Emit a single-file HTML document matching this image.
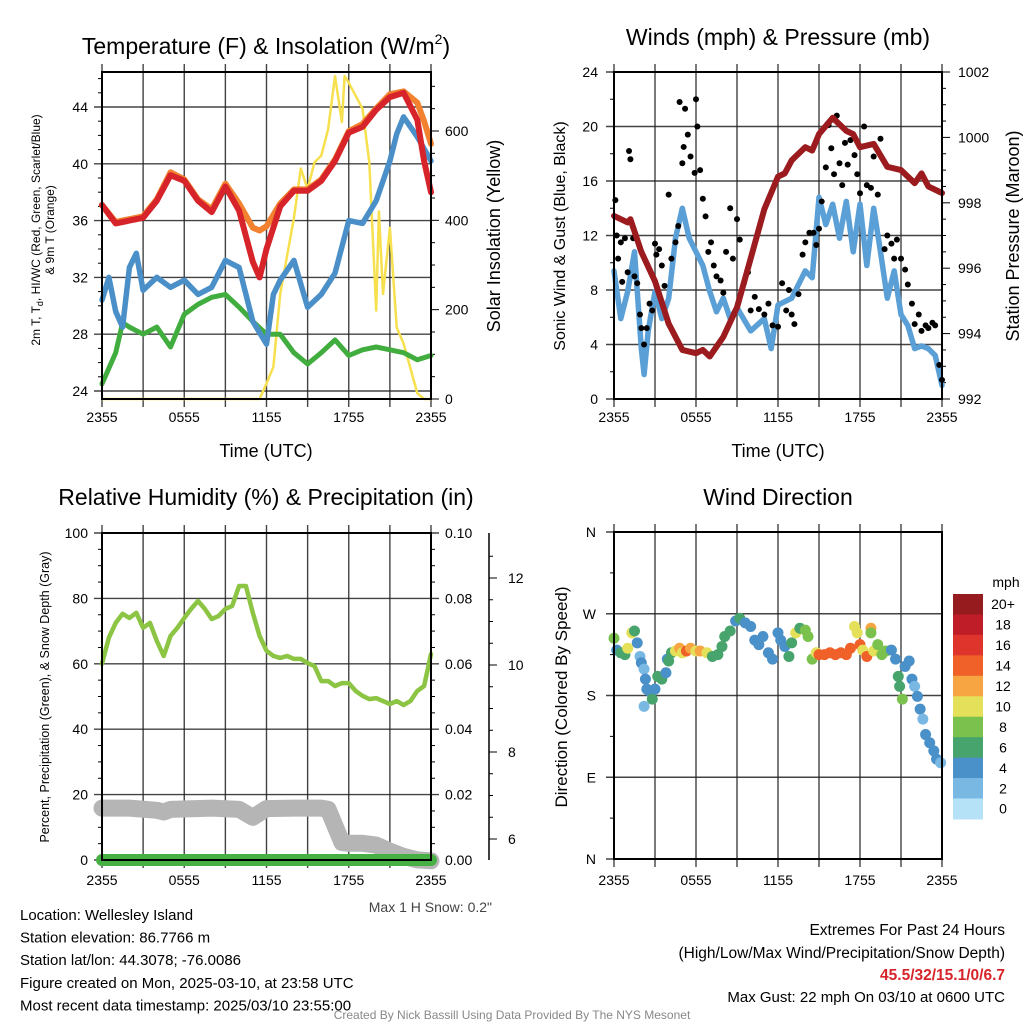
<!DOCTYPE html>
<html><head><meta charset="utf-8">
<style>
html,body{margin:0;padding:0;background:#fff;}
svg{display:block;font-family:"Liberation Sans",Arial,sans-serif;}
</style></head>
<body>
<svg id="c" width="1024" height="1024" viewBox="0 0 1024 1024" xmlns="http://www.w3.org/2000/svg"></svg>
<script>
// ---------- DATA ----------
const xTickLabels = ["2355","0555","1155","1755","2355"];
// Panel 1 (hours since 2355)
const tempHours = [0,1,2,3,4,5,6,7,8,9,10,11,11.5,12,13,14,15,16,17,18,19,20,21,22,23,23.5,24];
const tempRed =   [37.1,35.8,36,36.2,37.4,39.2,38.8,37.4,36.6,38.4,36.7,33.1,32,34,37,38.1,38.1,38.8,40.2,42.2,42.6,43.8,44.7,45,43.1,40.2,38];
const tempOrange =[37.1,35.9,36.1,36.3,37.5,39.4,38.9,37.5,36.8,38.6,37.2,35.5,35.3,35.6,37.2,38.2,38.2,38.9,40.3,42.3,42.8,43.9,44.9,45.1,44.3,43,41.4];
const dewHours = [0,0.5,1,1.5,2,2.5,3,4,5,6,7,8,9,10,11,12,12.5,13,14,15,16,17,18,19,20,21,21.5,22,23,24];
const dewBlue =  [30.4,32,29.6,28.5,32.7,33.7,31.1,32,31.3,31.8,30.8,31.3,33.2,32.7,28.9,27.3,30.8,31.8,33.2,29.9,30.8,32.3,36,35.8,37.4,40.2,42.1,43.3,41.9,40.2];
const wcHours = [0,1,1.5,2,3,4,5,6,7,8,9,10,11,12,13,14,15,16,17,18,19,20,21,22,23,24];
const wcGreen = [24.5,26.7,28.8,28.5,28,28.5,27.1,29.4,30.1,30.6,30.8,29.9,28.9,28,28,26.7,25.9,26.7,27.6,26.5,26.9,27.1,26.9,26.7,26.2,26.5];
const solarHours = [0,11.5,12,12.5,13,14,14.5,15,15.5,16,16.5,17,17.5,17.7,18,19,19.5,20,20.2,20.5,21,21.5,22,23,23.5,24];
const solarVals =  [0,0,35,72,235,405,516,470,530,545,605,723,620,723,708,650,530,198,420,235,383,160,124,13,0,0];
const tempTicks = [24,28,32,36,40,44];
const solarTicks = [0,200,400,600];
// Panel 2
const presHours = [0,1,1.2,2,3,4,5,6,6.5,7,8,9,10,11,12,12.5,13,14,14.5,15,16,17,17.5,18,19,20,21,22,22.5,23,24];
const presVals =  [997.6,997.4,997.5,996.5,995.6,994.3,993.5,993.4,993.5,993.3,993.9,994.8,996.3,997.8,998.8,998.9,999.3,999.7,999.6,1000.1,1000.6,1000.2,1000.1,999.7,999.8,999.1,999,998.6,998.9,998.5,998.3];
const windHours = [0,0.5,1,1.5,2,2.2,2.5,3,3.5,4,4.5,5,5.5,6,6.5,7,7.5,8,8.5,9,10,11,11.5,12,13,14,14.5,15,15.5,16,16.5,17,17.5,18,18.5,19,19.5,20,20.5,21,21.5,22,22.5,23,23.5,24];
const windVals =  [9.4,5.9,7.9,10.8,3.7,1.8,5,7.9,5.9,7.4,11.8,14,11.8,10.8,9.8,7.9,6.4,7.4,5.9,6.7,5,5.9,3.7,6.9,7.4,9.4,8.9,14.8,12.8,14.3,11.8,14.5,10.8,14.3,9.8,14,10.8,7.4,9.4,6.2,5.4,3.7,3.9,3.7,3.2,1];
const gustHours = [0.1,0.2,0.3,0.5,0.6,0.8,1.0,1.1,1.2,1.4,1.5,1.7,1.9,2.0,2.2,2.4,2.6,2.8,3.0,3.1,3.3,3.5,3.7,4.0,4.2,4.5,4.7,4.8,5.0,5.1,5.2,5.4,5.6,5.9,6.0,6.1,6.3,6.5,6.7,6.9,7.1,7.3,7.5,7.8,8.0,8.2,8.5,8.7,9.0,9.2,9.5,9.8,10.0,10.3,10.6,11,11.3,11.6,12.0,12.3,12.6,12.8,13.0,13.2,13.5,13.8,14.0,14.3,14.6,14.8,15.0,15.2,15.5,15.7,15.9,16.1,16.3,16.5,16.7,16.9,17.1,17.3,17.6,17.8,18.0,18.3,18.5,18.8,19.0,19.3,19.5,19.8,20.0,20.3,20.5,20.7,21,21.3,21.5,21.8,22.0,22.3,22.5,22.8,23.0,23.3,23.5,23.8,24];
const gustVals =  [14.6,12,10.3,11.5,8.6,11.8,9.3,18.2,17.6,11.8,9,8.5,6.2,5.2,4,5.2,7,6.5,11.4,10.6,11,9.8,8.3,15,10.3,11.5,12.7,21.8,17.3,18.5,21.3,19.4,17.8,16.6,22,20,16.8,14.7,13.4,10.8,11.5,9.8,9,8.7,7.8,10.8,14,10.3,13.2,11.7,8.5,9.3,6.5,7.5,6.6,6.2,7,5.4,5.3,8.5,6.5,8,6.2,5.5,7.7,10.6,11.5,12.2,12.2,11.3,12.5,14.5,17,20.1,18.4,16.5,20.8,17.3,15.7,18.8,17.2,19,17.9,16.5,15.1,20,15.7,15.5,17.8,15,19.1,11,12,11.4,10.3,11.7,10.3,9.5,8.4,7,5.5,6.2,5,5.4,5.2,5.6,5.4,2.5,1.4];
const windTicks = [0,4,8,12,16,20,24];
const presTicks = [992,994,996,998,1000,1002];
// Panel 3
const rhHours = [0,0.5,1,1.5,2,2.5,3,3.5,4,4.5,5,5.5,6,6.5,7,7.5,8,8.5,9,9.5,10,10.5,11,11.5,12,12.5,13,13.5,14,14.5,15,15.5,16,16.5,17,17.5,18,18.5,19,19.5,20,20.5,21,21.5,22,22.5,23,23.5,24];
const rhVals =  [60,68,72.5,75.3,74,75.6,71,72.5,67,62.4,68.5,71,74,76.8,79.2,76.8,73.7,74.6,76.8,77.7,83.8,83.8,75.6,68.5,64,62.4,61.8,62.4,61.5,61.5,60.2,59.3,54.7,54.7,53.2,54.1,54.1,51.7,50.2,49.2,49.5,48.6,47.7,48.6,47.4,48.6,51.7,53.2,63];
const snowHours = [0,2,4,4.5,5,8,10,11,12,14,16,16.5,17,17.5,18,19,20,21,22,23,24];
const snowVals =  [6.71,6.71,6.66,6.62,6.68,6.71,6.68,6.5,6.7,6.71,6.71,6.68,6.3,5.92,5.9,5.9,5.86,5.72,5.6,5.52,5.5];
const precipHours = [0,24];
const precipVals = [0,0];
const rhTicks = [0,20,40,60,80,100];
const precipTicks = ["0.00","0.02","0.04","0.06","0.08","0.10"];
const snowTicks = [6,8,10,12];
// Panel 4
const dirHours = [0,0.2,0.5,0.8,1.0,1.3,1.5,1.7,1.9,2.0,2.2,2.3,2.4,2.2,2.6,2.8,3.0,3.2,3.5,3.8,3.9,4.0,4.2,4.5,4.8,5.0,5.3,5.6,6.0,6.3,6.8,7.2,7.6,7.9,8.1,8.5,8.9,9.2,9.6,10,10.3,10.6,10.9,11.3,11.6,12,12.2,12.5,12.8,13.0,13.3,13.6,14.0,14.2,14.5,14.8,15.0,15.4,15.8,16.2,16.6,17.0,17.3,17.6,17.8,18.0,18.2,18.5,18.8,18.8,19.0,19.3,19.6,19.9,20.3,20.6,20.8,20.9,21.1,21.3,21.6,21.8,22.0,22.2,22.4,22.6,22.8,23.1,23.4,23.6,23.9];
const dirVals =  [243,230,227,225,232,249,251,238,223,216,209,198,187,168,185,176,187,201,198,205,220,218,227,229,232,227,229,232,229,229,227,223,225,234,245,251,262,265,260,256,241,236,245,227,220,249,241,234,223,238,249,254,252,245,220,227,225,225,227,225,227,225,232,256,249,236,230,223,254,249,229,236,225,229,230,220,201,190,176,212,218,198,190,179,165,154,137,128,119,110,106];
const dirSpeeds = [9,5,6,7,10,10,7,4,3,4,3,4,4,2,5,6,5,7,6,4,4,6,7,10,12,11,14,12,10,12,10,7,6,6,6,6,5,6,4,5,4,5,5,4,4,5,5,4,6,7,10,7,8,8,8,10,14,14,14,14,14,14,14,11,10,15,10,14,12,8,11,8,9,9,5,5,6,7,8,4,4,5,3,4,4,3,4,4,4,4,2];
const dirTickLabels = ["N","E","S","W","N"];
const speedBinLabels = ["0","2","4","6","8","10","12","14","16","18","20+"];
const speedColors = ["#b5e2f7","#7ab8e4","#4a90c9","#47a46c","#7bc14d","#e5e05a","#f7a542","#ef6128","#de342b","#bf1d27","#961b1e"];

// ---------- DRAWING ----------
const NS="http://www.w3.org/2000/svg";
const svg=document.getElementById('c');
function mk(tag,attrs,parent){const e=document.createElementNS(NS,tag);for(const k in attrs)e.setAttribute(k,attrs[k]);(parent||svg).appendChild(e);return e;}
function txt(s,x,y,size,anchor,parent,extra){const t=mk('text',Object.assign({x:x,y:y,'font-size':size,'text-anchor':anchor||'middle',fill:'#000'},extra||{}),parent);t.textContent=s;return t;}
function lin(x0,x1,h0,h1){return v=>x0+(v-h0)*(x1-x0)/(h1-h0);}
function pathD(xs,ys,fx,fy){return xs.map((h,i)=>(i?'L':'M')+fx(h).toFixed(1)+','+fy(ys[i]).toFixed(1)).join(' ');}

function frame(g,x0,x1,y0,y1,fx){
  for(let h=0;h<=24;h+=3){const x=fx(h);
    const l=mk('line',{x1:x,x2:x,y1:y0-8,y2:y1+8,stroke:'#222','stroke-width':1.4,'stroke-opacity':0.85},g);
    
    
  }
  for(let i=0;i<5;i++){const x=fx(i*6);
    const t=txt(xTickLabels[i],x,422,14,'middle',g);
    
    
  }
}
function box(g,x0,x1,y0,y1){
  const r=mk('rect',{x:x0,y:y0,width:x1-x0,height:y1-y0,fill:'none',stroke:'#000','stroke-width':2},g);
  
  
}
function hgrid(g,x0,x1,y){mk('line',{x1:x0,x2:x1,y1:y,y2:y,stroke:'#222','stroke-width':1.4,'stroke-opacity':0.85},g);}
function tickL(g,x,y,len){mk('line',{x1:x-len,x2:x,y1:y,y2:y,stroke:'#000','stroke-width':1},g);}
function tickR(g,x,y,len){mk('line',{x1:x,x2:x+len,y1:y,y2:y,stroke:'#000','stroke-width':1},g);}

// ===== Panel 1 =====
(function(){
  const g=mk('g',{});  
  const X0=102,X1=431,Y0=72,Y1=399;
  const fx=lin(X0,X1,0,24), fy=lin(391,107,24,44), fs=lin(399,131,0,600);
  frame(g,X0,X1,Y0,Y1,fx);
  tempTicks.forEach(v=>{const y=fy(v);hgrid(g,X0-8,X1,y);
    const t=txt(String(v),X0-14,y+5,14,'end',g);  });
  for(let v=23;v<=46;v++){if(v%4){const y=fy(v); if(y>Y0&&y<Y1) tickL(g,X0,y,4);}}
  solarTicks.forEach(v=>{const y=fs(v);tickR(g,X1,y,8);
    const t=txt(String(v),X1+14,y+5,14,'start',g);  });
  for(let v=50;v<=700;v+=50){if(v%200){const y=fs(v); if(y>Y0) tickR(g,X1,y,4);}}
  let p;
  p=mk('path',{d:pathD(solarHours,solarVals,fx,fs),fill:'none',stroke:'#f7e04e','stroke-width':2.5,'stroke-linejoin':'round'},g);
   
  p=mk('path',{d:pathD(wcHours,wcGreen,fx,fy),fill:'none',stroke:'#42ad3f','stroke-width':5,'stroke-linejoin':'round','stroke-linecap':'round'},g);
   
  p=mk('path',{d:pathD(dewHours,dewBlue,fx,fy),fill:'none',stroke:'#4a8fc8','stroke-width':5.5,'stroke-linejoin':'round','stroke-linecap':'round'},g);
   
  p=mk('path',{d:pathD(tempHours,tempOrange,fx,fy),fill:'none',stroke:'#f28130','stroke-width':6,'stroke-linejoin':'round','stroke-linecap':'round'},g);
   
  p=mk('path',{d:pathD(tempHours,tempRed,fx,fy),fill:'none',stroke:'#d6242a','stroke-width':6,'stroke-linejoin':'round','stroke-linecap':'round'},g);
   
  box(g,X0,X1,Y0,Y1);
  let t=mk('text',{x:266,y:54,'font-size':23,'text-anchor':'middle'},g);
  t.innerHTML='Temperature (F) &amp; Insolation (W/m<tspan font-size="14" dy="-10">2</tspan><tspan dy="10">)</tspan>';
   
  t=txt('Time (UTC)',266,457,18,'middle',g);  
  t=mk('text',{x:0,y:0,'font-size':12,'text-anchor':'middle',transform:'translate(40,230) rotate(-90)'},g);
  t.innerHTML='2m T, T<tspan font-size="9" dy="3">d</tspan><tspan dy="-3">, HI/WC (Red, Green, Scarlet/Blue)</tspan>';
   
  t=mk('text',{x:0,y:0,'font-size':12,'text-anchor':'middle',transform:'translate(54,230) rotate(-90)'},g); t.textContent='& 9m T (Orange)';
   
  t=mk('text',{x:0,y:0,'font-size':18,'text-anchor':'middle',transform:'translate(500,236) rotate(-90)'},g); t.textContent='Solar Insolation (Yellow)';
   
})();

// ===== Panel 2 =====
(function(){
  const g=mk('g',{});  
  const X0=614,X1=942,Y0=72,Y1=399;
  const fx=lin(X0,X1,0,24), fy=lin(Y1,Y0,0,24), fp=lin(Y1,Y0,992,1002);
  frame(g,X0,X1,Y0,Y1,fx);
  windTicks.forEach(v=>{const y=fy(v);hgrid(g,X0-8,X1,y);
    const t=txt(String(v),X0-16,y+5,14,'end',g);  });
  for(let v=2;v<24;v+=4) tickL(g,X0,fy(v),4);
  presTicks.forEach(v=>{const y=fp(v);tickR(g,X1,y,8);
    const t=txt(String(v),X1+16,y+5,14,'start',g);  });
  for(let v=992.5;v<1002;v+=0.5){if(v%2) tickR(g,X1,fp(v),4);}
  let p=mk('path',{d:pathD(windHours,windVals,fx,fy),fill:'none',stroke:'#5a9fd6','stroke-width':5.5,'stroke-linejoin':'round','stroke-linecap':'round'},g);
   
  gustHours.forEach((h,i)=>{const c=mk('circle',{cx:fx(h),cy:fy(gustVals[i]),r:3,fill:'#000'},g);
    
    });
  p=mk('path',{d:pathD(presHours,presVals,fx,fp),fill:'none',stroke:'#9b1b1e','stroke-width':6,'stroke-linejoin':'round','stroke-linecap':'round'},g);
   
  box(g,X0,X1,Y0,Y1);
  let t=txt('Winds (mph) & Pressure (mb)',778,45,23,'middle',g);  
  t=txt('Time (UTC)',778,457,18,'middle',g);  
  t=mk('text',{x:0,y:0,'font-size':16,'text-anchor':'middle',transform:'translate(565,236) rotate(-90)'},g); t.textContent='Sonic Wind & Gust (Blue, Black)';
   
  t=mk('text',{x:0,y:0,'font-size':18,'text-anchor':'middle',transform:'translate(1019,236) rotate(-90)'},g); t.textContent='Station Pressure (Maroon)';
   
})();

// ===== Panel 3 =====
(function(){
  const g=mk('g',{transform:'translate(0,463)'});  
  const X0=102,X1=431,Y0=70,Y1=397;
  const fx=lin(X0,X1,0,24), fy=lin(Y1,Y0,0,100), fsn=lin(839-463,578-463,6,12);
  frame(g,X0,X1,Y0,Y1,fx);
  rhTicks.forEach((v,i)=>{const y=fy(v);hgrid(g,X0-8,X1+8,y);
    let t=txt(String(v),X0-14,y+5,14,'end',g);  
    t=txt(precipTicks[i],X1+14,y+5,14,'start',g);  });
  for(let v=5;v<100;v+=5){if(v%20){tickL(g,X0,fy(v),4);tickR(g,X1,fy(v),4);}}
  mk('line',{x1:489,x2:489,y1:Y0,y2:Y1,stroke:'#000','stroke-width':1.5},g);
  snowTicks.forEach(v=>{const y=fsn(v);tickR(g,489,y,8);
    const t=txt(String(v),508,y+5,14,'start',g);  });
  for(let v=5.5;v<=12.5;v+=0.5){if(v%2){const y=fsn(v); if(y>Y0&&y<Y1) tickR(g,489,y,4);}}
  let p=mk('path',{d:pathD(snowHours,snowVals,fx,fsn),fill:'none',stroke:'#b5b5b5','stroke-width':17,'stroke-linejoin':'round','stroke-linecap':'round'},g);
   
  p=mk('path',{d:pathD(precipHours,precipVals,fx,v=>fy(v*1000)),fill:'none',stroke:'#46b045','stroke-width':12,'stroke-linecap':'round'},g);
   
  p=mk('path',{d:pathD(rhHours,rhVals,fx,fy),fill:'none',stroke:'#8cc443','stroke-width':4.5,'stroke-linejoin':'round','stroke-linecap':'round'},g);
   
  box(g,X0,X1,Y0,Y1);
  let t=txt('Relative Humidity (%) & Precipitation (in)',266,42,23,'middle',g);  
  t=mk('text',{x:0,y:0,'font-size':12.5,'text-anchor':'middle',transform:'translate(49,234) rotate(-90)'},g); t.textContent='Percent, Precipitation (Green), & Snow Depth (Gray)';
   
  t=txt('Max 1 H Snow: 0.2"',492,449,14,'end',g,{fill:'#444'});  
})();

// ===== Panel 4 =====
(function(){
  const g=mk('g',{transform:'translate(0,463)'});  
  const X0=614,X1=942,Y0=69,Y1=396;
  const fx=lin(X0,X1,0,24), fy=lin(Y1,Y0,0,360);
  frame(g,X0,X1,Y0,Y1,fx);
  dirTickLabels.forEach((s,i)=>{const y=fy(i*90);hgrid(g,X0-8,X1,y);
    const t=txt(s,X0-18,y+5,14,'end',g);  });
  for(let v=45;v<360;v+=90) tickL(g,X0,fy(v),4);
  dirHours.forEach((h,i)=>{const b=Math.min(10,Math.floor(dirSpeeds[i]/2));
    const c=mk('circle',{cx:fx(h),cy:fy(dirVals[i]),r:5.5,fill:speedColors[b]},g);
    
    });
  box(g,X0,X1,Y0,Y1);
  let t=txt('Wind Direction',778,42,23,'middle',g);  
  t=mk('text',{x:0,y:0,'font-size':17,'text-anchor':'middle',transform:'translate(567,234) rotate(-90)'},g); t.textContent='Direction (Colored By Speed)';
   
  const cb=mk('g',{},g);  
  const bh=20.45, top=594-463;
  t=txt('mph',1006,124,14,'middle',cb);  
  speedBinLabels.forEach((s,i)=>{const k=10-i;const y=top+i*bh;
    const r=mk('rect',{x:953,y:y,width:30,height:bh+0.5,fill:speedColors[k]},cb);
     
    const tt=txt(speedBinLabels[k],1003,y+bh/2+5,14,'middle',cb);  });
})();

// ===== Footer text =====
(function(){
  const g=mk('g',{});  
  const left=["Location: Wellesley Island","Station elevation: 86.7766 m","Station lat/lon: 44.3078; -76.0086","Figure created on Mon, 2025-03-10, at 23:58 UTC","Most recent data timestamp: 2025/03/10 23:55:00"];
  left.forEach((s,i)=>{const t=txt(s,20,920+i*22.6,15,'start',g);  });
  let t=txt('Extremes For Past 24 Hours',1005,935,15.5,'end',g);  
  t=txt('(High/Low/Max Wind/Precipitation/Snow Depth)',1005,958,15.5,'end',g);  
  t=txt('45.5/32/15.1/0/6.7',1005,980,15.5,'end',g,{fill:'#d6242a','font-weight':'bold'});  
  t=txt('Max Gust: 22 mph On 03/10 at 0600 UTC',1005,1002,15,'end',g);  
  t=txt('Created By Nick Bassill Using Data Provided By The NYS Mesonet',512,1019,12,'middle',g,{fill:'#888'});  
})();
</script>
</body></html>
